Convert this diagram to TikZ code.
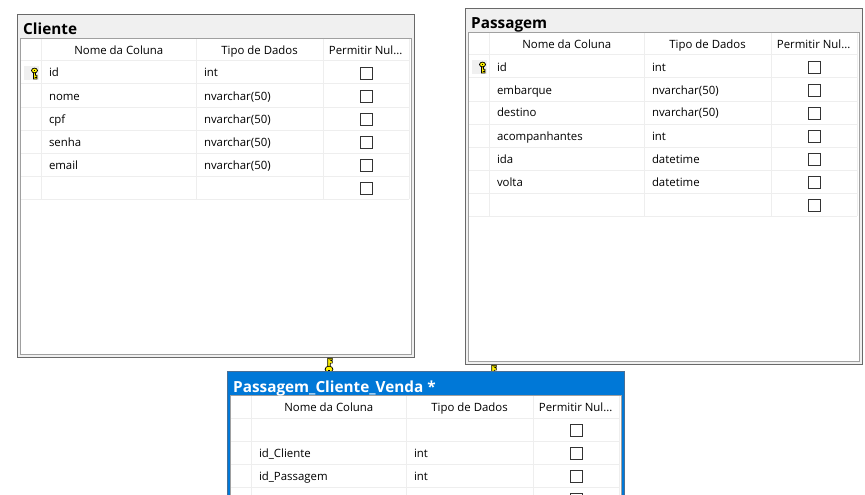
\documentclass[tikz,border=0pt]{standalone}
\usepackage{fontspec}
\setmainfont{Open Sans}
\usepackage{xcolor}
\definecolor{frame-gray}{HTML}{696969}
\definecolor{inner-gray}{HTML}{A0A0A0}
\definecolor{title-bg}{HTML}{F0F0F0}
\definecolor{grid-gray}{HTML}{EEEEEE}
\definecolor{select-blue}{HTML}{0078D7}
\definecolor{select-frame}{HTML}{4A6F94}
\definecolor{key-yellow}{HTML}{FFF200}
\tikzset{
  tablebox/.style={draw=frame-gray, line width=1pt, fill=title-bg},
  selectbox/.style={draw=select-frame, line width=1pt, fill=select-blue},
  gridbox/.style={draw=inner-gray, line width=1pt, fill=white},
  gridline/.style={draw=grid-gray, line width=1pt},
  titletext/.style={anchor=base west, inner sep=0pt, font=\fontsize{15.3}{17}\selectfont\bfseries},
  headtext/.style={anchor=base, inner sep=0pt, font=\fontsize{11.4}{13}\selectfont},
  celltext/.style={anchor=base west, inner sep=0pt, font=\fontsize{11.4}{13}\selectfont},
  checkbox/.style={draw=black!80, line width=1pt, fill=white, minimum size=12pt, inner sep=0pt},
  keyicon/.pic={
    \draw[fill=key-yellow, line width=0.7pt] (-1,4) -- (-1,11) -- (2.6,11) -- (2.6,9.6) -- (1,9.6)
      -- (2.6,8.6) -- (2.6,7.2) -- (1,7.2) -- (1,4) -- cycle;
    \draw[fill=key-yellow, line width=0.7pt] (0,2.5) ellipse (3 and 2.4);
    \fill[black] (-0.9,1.6) rectangle (0.9,2.3);
  }
}
\begin{document}
\begin{tikzpicture}[x=1pt, y=-1pt]
    \clip (0,0) rectangle (865,495);
    % Cliente
    \draw[tablebox] (17.5,14.5) rectangle (414.5,357.5);
    \draw[gridbox] (20.5,38.5) rectangle (411.5,354.5);
    \draw[gridline] (21,61) -- (409,61);
    \draw[gridline] (21,84) -- (409,84);
    \draw[gridline] (21,107) -- (409,107);
    \draw[gridline] (21,130) -- (409,130);
    \draw[gridline] (21,153) -- (409,153);
    \draw[gridline] (21,176) -- (409,176);
    \draw[gridline] (21,199) -- (409,199);
    \draw[gridline] (41.5,39) -- (41.5,199);
    \draw[gridline] (196.5,39) -- (196.5,199);
    \draw[gridline] (323.5,39) -- (323.5,199);
    \draw[gridline] (409,39) -- (409,199);
    \node[titletext] (cliTitle) at (23,35) {Cliente};
    \node[headtext] (cliHeadNome) at (118.8,54.3) {Nome da Coluna};
    \node[headtext] (cliHeadTipo) at (259.6,54.3) {Tipo de Dados};
    \node[headtext] (cliHeadNull) at (365.7,54.3) {Permitir Nul...};
    \fill[title-bg] (24,66) rectangle (39,80);
    \pic at (34.5,68) {keyicon};
    \node[celltext] (cliId) at (48.8,77) {id};
    \node[celltext] (cliNome) at (48.8,100) {nome};
    \node[celltext] (cliCpf) at (48.8,123) {cpf};
    \node[celltext] (cliSenha) at (48.8,146) {senha};
    \node[celltext] (cliEmail) at (48.8,169) {email};
    \node[celltext] (cliIdTipo) at (203.8,77) {int};
    \node[celltext] (cliNomeTipo) at (203.8,100) {nvarchar(50)};
    \node[celltext] (cliCpfTipo) at (203.8,123) {nvarchar(50)};
    \node[celltext] (cliSenhaTipo) at (203.8,146) {nvarchar(50)};
    \node[celltext] (cliEmailTipo) at (203.8,169) {nvarchar(50)};
    \node[checkbox] (cliIdNull) at (366.5,73.5) {};
    \node[checkbox] (cliNomeNull) at (366.5,96.5) {};
    \node[checkbox] (cliCpfNull) at (366.5,119.5) {};
    \node[checkbox] (cliSenhaNull) at (366.5,142.5) {};
    \node[checkbox] (cliEmailNull) at (366.5,165.5) {};
    \node[checkbox] (cliVazioNull) at (366.5,188.5) {};
    % Passagem
    \draw[tablebox] (465.5,8.5) rectangle (862.5,364.5);
    \draw[gridbox] (468.5,32.5) rectangle (859.5,361.5);
    \draw[gridline] (469,55) -- (857,55);
    \draw[gridline] (469,78) -- (857,78);
    \draw[gridline] (469,101) -- (857,101);
    \draw[gridline] (469,124) -- (857,124);
    \draw[gridline] (469,147) -- (857,147);
    \draw[gridline] (469,170) -- (857,170);
    \draw[gridline] (469,193) -- (857,193);
    \draw[gridline] (469,216) -- (857,216);
    \draw[gridline] (489.5,33) -- (489.5,216);
    \draw[gridline] (644.5,33) -- (644.5,216);
    \draw[gridline] (771.5,33) -- (771.5,216);
    \draw[gridline] (857,33) -- (857,216);
    \node[titletext] (pasTitle) at (471,29) {Passagem};
    \node[headtext] (pasHeadNome) at (566.8,48.3) {Nome da Coluna};
    \node[headtext] (pasHeadTipo) at (707.6,48.3) {Tipo de Dados};
    \node[headtext] (pasHeadNull) at (813.7,48.3) {Permitir Nul...};
    \fill[title-bg] (472,60) rectangle (487,74);
    \pic at (482.5,62) {keyicon};
    \node[celltext] (pasId) at (496.8,71) {id};
    \node[celltext] (pasEmbarque) at (496.8,94) {embarque};
    \node[celltext] (pasDestino) at (496.8,117) {destino};
    \node[celltext] (pasAcomp) at (496.8,140) {acompanhantes};
    \node[celltext] (pasIda) at (496.8,163) {ida};
    \node[celltext] (pasVolta) at (496.8,186) {volta};
    \node[celltext] (pasIdTipo) at (651.8,71) {int};
    \node[celltext] (pasEmbarqueTipo) at (651.8,94) {nvarchar(50)};
    \node[celltext] (pasDestinoTipo) at (651.8,117) {nvarchar(50)};
    \node[celltext] (pasAcompTipo) at (651.8,140) {int};
    \node[celltext] (pasIdaTipo) at (651.8,163) {datetime};
    \node[celltext] (pasVoltaTipo) at (651.8,186) {datetime};
    \node[checkbox] (pasIdNull) at (814.5,67.5) {};
    \node[checkbox] (pasEmbarqueNull) at (814.5,90.5) {};
    \node[checkbox] (pasDestinoNull) at (814.5,113.5) {};
    \node[checkbox] (pasAcompNull) at (814.5,136.5) {};
    \node[checkbox] (pasIdaNull) at (814.5,159.5) {};
    \node[checkbox] (pasVoltaNull) at (814.5,182.5) {};
    \node[checkbox] (pasVazioNull) at (814.5,205.5) {};
    % chaves das relacoes
    \pic[xscale=1.3, yscale=-1.3] at (329,372.5) {keyicon};
    \pic[xscale=1.3, yscale=-1.3] at (493,379.5) {keyicon};
    % Passagem_Cliente_Venda
    \draw[selectbox] (227.5,371.5) rectangle (624.5,520);
    \draw[gridbox] (230.5,395.5) rectangle (621.5,520);
    \draw[gridline] (231,418) -- (619,418);
    \draw[gridline] (231,441) -- (619,441);
    \draw[gridline] (231,464) -- (619,464);
    \draw[gridline] (231,487) -- (619,487);
    \draw[gridline] (251.5,396) -- (251.5,495);
    \draw[gridline] (406.5,396) -- (406.5,495);
    \draw[gridline] (533.5,396) -- (533.5,495);
    \draw[gridline] (619,396) -- (619,495);
    \node[titletext, text=white] (venTitle) at (233,392) {Passagem\_Cliente\_Venda *};
    \node[headtext] (venHeadNome) at (328.8,411.3) {Nome da Coluna};
    \node[headtext] (venHeadTipo) at (469.6,411.3) {Tipo de Dados};
    \node[headtext] (venHeadNull) at (575.7,411.3) {Permitir Nul...};
    \node[celltext] (venCliente) at (258.8,457) {id\_Cliente};
    \node[celltext] (venPassagem) at (258.8,480) {id\_Passagem};
    \node[celltext] (venClienteTipo) at (413.8,457) {int};
    \node[celltext] (venPassagemTipo) at (413.8,480) {int};
    \node[checkbox] (venVazioNull) at (576.5,430.5) {};
    \node[checkbox] (venClienteNull) at (576.5,453.5) {};
    \node[checkbox] (venPassagemNull) at (576.5,476.5) {};
    \node[checkbox] (venOutroNull) at (576.5,499.5) {};
  \end{tikzpicture}
\end{document}
